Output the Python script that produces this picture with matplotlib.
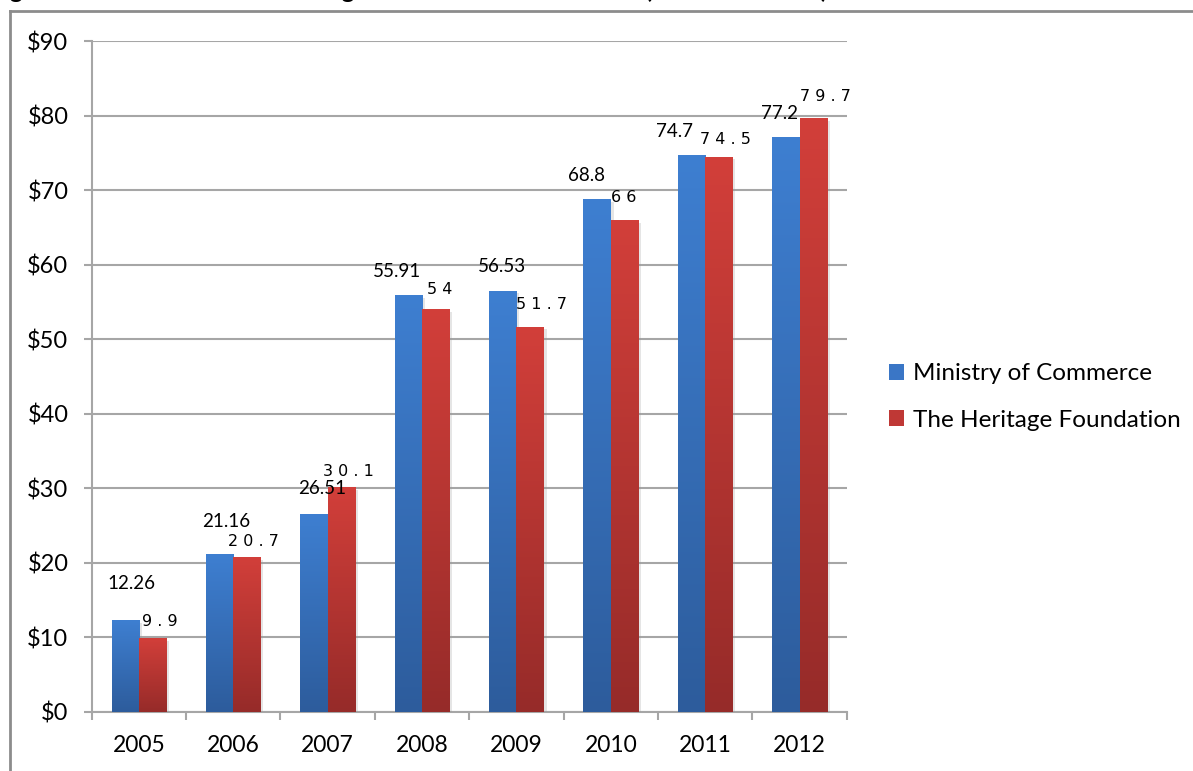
import matplotlib
matplotlib.use("Agg")
import matplotlib.pyplot as plt
import matplotlib.patheffects as pe
from matplotlib.patches import Patch
from matplotlib.lines import Line2D
from matplotlib.colors import LinearSegmentedColormap
import numpy as np

# Data
years = ["2005", "2006", "2007", "2008", "2009", "2010", "2011", "2012"]
ministry = [12.26, 21.16, 26.51, 55.91, 56.53, 68.8, 74.7, 77.2]
heritage = [9.9, 20.7, 30.1, 54, 51.7, 66, 74.5, 79.7]
series_names = ["Ministry of Commerce", "The Heritage Foundation"]
y_ticks = [0, 10, 20, 30, 40, 50, 60, 70, 80, 90]

# Label offsets (pixels) relative to bar top centre
blue_off = [(6, 37), (7, 33), (8, 26), (-11, 24), (-1, 24), (-11, 24), (-17, 24), (-6, 23)]
red_off = [(7, 16), (6, 16), (7, 16), (4, 20), (11, 22), (-1, 23), (7, 17), (12, 21)]

W, H, DPI = 1193, 771, 100
fig = plt.figure(figsize=(W / DPI, H / DPI), dpi=DPI)
fig.patch.set_facecolor("white")

ax_l, ax_r, ax_b, ax_t = 91.7, 846.7, 711.7, 41.2
ax = fig.add_axes([ax_l / W, (H - ax_b) / H, (ax_r - ax_l) / W, (ax_b - ax_t) / H])

TICK_FONT = "Lato"
grid_c = "#A6A6A6"

n = len(years)
x = np.arange(n)
bw = 0.29

blue_cmap = LinearSegmentedColormap.from_list("b", ["#2D5C9C", "#3E7FD1"])
red_cmap = LinearSegmentedColormap.from_list("r", ["#962B29", "#D23F3A"])
grad = np.linspace(0, 1, 256).reshape(-1, 1)

shadow = [pe.SimplePatchShadow(offset=(2, -2), shadow_rgbFace="#999999", alpha=0.25), pe.Normal()]

def draw_bars(xs, vals, cmap, base):
    bars = ax.bar(xs, vals, width=bw, color=base, zorder=3, linewidth=0)
    for b in bars:
        b.set_path_effects(shadow)
        x0, y0 = b.get_x(), b.get_y()
        w, h = b.get_width(), b.get_height()
        im = ax.imshow(grad, cmap=cmap, extent=[x0, x0 + w, y0, y0 + h],
                       origin="lower", aspect="auto", zorder=4, interpolation="bilinear")
        im.set_clip_path(b)
    return bars

draw_bars(x - bw / 2, ministry, blue_cmap, "#3A73BE")
draw_bars(x + bw / 2, heritage, red_cmap, "#BE3734")

ax.set_xlim(-0.5, n - 0.5)
ax.set_ylim(0, 90)

# Data labels
for i in range(n):
    dx, dy = blue_off[i]
    ax.annotate(f"{ministry[i]:g}", (x[i] - bw / 2, ministry[i]), xytext=(dx, dy),
                textcoords="offset pixels", ha="center", va="center",
                fontsize=13.5, family="Lato", color="black", zorder=6)
    dx, dy = red_off[i]
    ax.annotate(" ".join(f"{heritage[i]:g}"), (x[i] + bw / 2, heritage[i]), xytext=(dx, dy),
                textcoords="offset pixels", ha="center", va="center",
                fontsize=11.5, family="DejaVu Sans", color="black", zorder=6)

# Axes styling
ax.set_yticks(y_ticks)
ax.set_yticklabels([f"${v}" for v in y_ticks], family=TICK_FONT, fontsize=17)
ax.yaxis.grid(True, color=grid_c, linewidth=1.5, zorder=0)
ax.set_axisbelow(True)
ax.tick_params(axis="y", length=8 * 0.72, width=1.5, color=grid_c, pad=11)

ax.set_xticks(x)
ax.set_xticklabels(years, family=TICK_FONT, fontsize=16.5)
ax.set_xticks(np.arange(-0.5, n, 1.0), minor=True)
ax.tick_params(axis="x", which="major", length=0, pad=17)
ax.tick_params(axis="x", which="minor", length=8 * 0.72, width=1.5, color=grid_c)

for s in ["top", "right"]:
    ax.spines[s].set_visible(False)
for s in ["left", "bottom"]:
    ax.spines[s].set_color(grid_c)
    ax.spines[s].set_linewidth(1.5)

# Legend
handles = [Patch(facecolor="#3A76C6", edgecolor="none"),
           Patch(facecolor="#BF3835", edgecolor="none")]
leg = fig.legend(handles, series_names, loc="center left",
                 bbox_to_anchor=(872 / W, (H - 397) / H), frameon=False,
                 prop={"family": TICK_FONT, "size": 17.5},
                 handlelength=0.62, handleheight=0.62, handletextpad=0.35,
                 labelspacing=1.05, borderpad=0.2)

# Outer frame of the figure box
fig.add_artist(Line2D([10 / W, 1.0], [(H - 11) / H, (H - 11) / H], transform=fig.transFigure,
                      color="#8C8C8C", linewidth=2))
fig.add_artist(Line2D([10 / W, 10 / W], [0, (H - 11) / H], transform=fig.transFigure,
                      color="#8C8C8C", linewidth=2))

# Caption sitting above the frame
fig.text(-10 / W, (H + 10) / H,
         "Figure 8: Chinese Outward Foreign Direct Investment Flows (in billion dollars)",
         ha="left", va="center", fontsize=17.5, fontweight="bold", family=TICK_FONT)

fig.savefig("out.png", dpi=DPI)
